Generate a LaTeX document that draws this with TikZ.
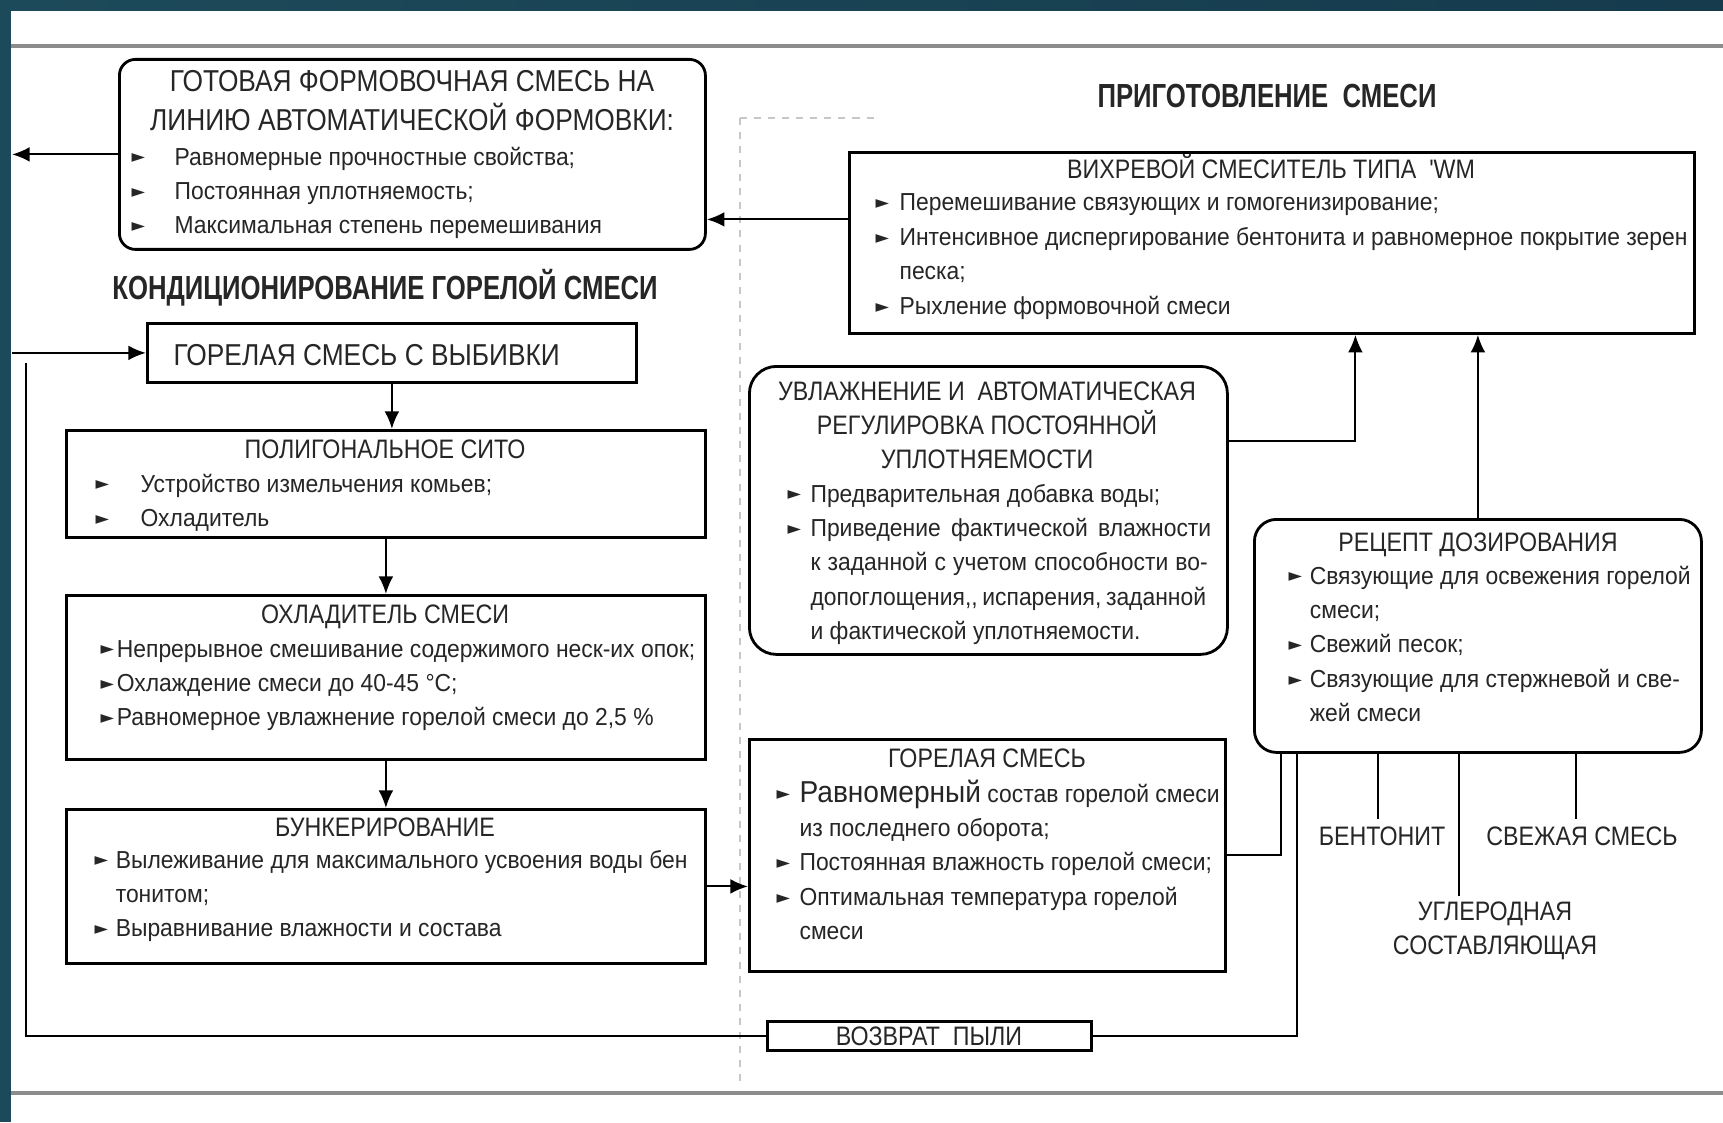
\documentclass[tikz,border=0pt]{standalone}
\usepackage{fontspec}
\usetikzlibrary{arrows.meta}
\setmainfont{Liberation Sans}
\newfontfamily\bodyfnt{Liberation Sans}[FakeStretch=0.93]
\newfontfamily\capsfnt{Liberation Sans}[FakeStretch=0.87]
\newfontfamily\headfnt{Liberation Sans}[FakeStretch=0.77]
\newfontfamily\symfnt{DejaVu Sans}
\definecolor{bandA}{HTML}{1D4A5A}
\definecolor{bandB}{HTML}{2B6862}
\definecolor{bandC}{HTML}{153B4D}
\newcommand{\bul}[1]{\makebox[#1][l]{\raisebox{0.6pt}{\symfnt\fontsize{5}{5}\selectfont ►}}}

\begin{document}
\begin{tikzpicture}[x=0.1mm, y=-0.1mm, text=black!85,
	box/.style={draw, line width=0.8pt, anchor=north west, inner sep=0},
	rbox/.style={box, rounded corners=2.2mm},
	ttl/.style={anchor=base, inner sep=0, font=\capsfnt\fontsize{7.6}{9.8}\selectfont},
	lst/.style={anchor=base west, inner sep=0, font=\bodyfnt\fontsize{7}{9.8}\selectfont},
	hd/.style={anchor=base, inner sep=0, font=\headfnt\bfseries\fontsize{9.5}{11}\selectfont},
	ln/.style={line width=0.6pt},
	arr/.style={line width=0.6pt, arrows={-Latex[length=5pt, width=4.2pt]}}]
	\useasboundingbox (0,0) rectangle (1723,1122);
	\fill[white] (0,0) rectangle (1723,1122);
	\shade[left color=bandA, middle color=bandB, right color=bandC] (0,0) rectangle (1723,11);
	\fill[bandA] (0,0) rectangle (11,1122);
	\draw[black!45, line width=1pt] (11,46) -- (1723,46);
	\draw[black!45, line width=1pt] (11,1093) -- (1723,1093);
	\draw[black!22, line width=0.8pt, dash pattern=on 2pt off 2pt] (740,118) -- (740,1085);
	\draw[black!22, line width=0.8pt, dash pattern=on 2pt off 2pt] (740,118) -- (880,118);

	% headings
	\node[hd] (hcond) at (385,299) {КОНДИЦИОНИРОВАНИЕ ГОРЕЛОЙ СМЕСИ};
	\node[hd] (hprep) at (1267,108) {ПРИГОТОВЛЕНИЕ\ \ СМЕСИ};

	% left column
	\node[rbox, rounded corners=1.6mm, minimum width=58.6mm, minimum height=19mm] (gotovaya) at (118,58) {};
	\node[ttl, font=\capsfnt\fontsize{8.6}{10.5}\selectfont] (gotovaya-t) at (412,92) {\begin{tabular}[t]{@{}c@{}}ГОТОВАЯ ФОРМОВОЧНАЯ СМЕСЬ НА\\ЛИНИЮ АВТОМАТИЧЕСКОЙ ФОРМОВКИ:\end{tabular}};
	\node[lst] (gotovaya-l) at (131,165) {\begin{tabular}[t]{@{}l@{}l@{}}
		\bul{12.2pt} & Равномерные прочностные свойства;\\
		\bul{12.2pt} & Постоянная уплотняемость;\\
		\bul{12.2pt} & Максимальная степень перемешивания
	\end{tabular}};

	\node[box, minimum width=48.9mm, minimum height=5.9mm] (vybivka) at (146,322) {};
	\node[ttl, anchor=base west, font=\capsfnt\fontsize{8.6}{10.5}\selectfont] (vybivka-t) at (173,365) {ГОРЕЛАЯ СМЕСЬ С ВЫБИВКИ};

	\node[box, minimum width=63.9mm, minimum height=10.7mm] (sito) at (65,429) {};
	\node[ttl] (sito-t) at (385,458) {ПОЛИГОНАЛЬНОЕ СИТО};
	\node[lst] (sito-l) at (95,492) {\begin{tabular}[t]{@{}l@{}l@{}}
		\bul{12.8pt} & Устройство измельчения комьев;\\
		\bul{12.8pt} & Охладитель
	\end{tabular}};

	\node[box, minimum width=63.9mm, minimum height=16.4mm] (ohlad) at (65,594) {};
	\node[ttl] (ohlad-t) at (385,623) {ОХЛАДИТЕЛЬ СМЕСИ};
	\node[lst] (ohlad-l) at (100,657) {\begin{tabular}[t]{@{}l@{}l@{}}
		\bul{4.6pt} & Непрерывное смешивание содержимого неск-их опок;\\
		\bul{4.6pt} & Охлаждение смеси до 40-45 °С;\\
		\bul{4.6pt} & Равномерное увлажнение горелой смеси до 2,5 \%
	\end{tabular}};

	\node[box, minimum width=63.9mm, minimum height=15.4mm] (bunker) at (65,808) {};
	\node[ttl] (bunker-t) at (385,836) {БУНКЕРИРОВАНИЕ};
	\node[lst] (bunker-l) at (94,868) {\begin{tabular}[t]{@{}l@{}l@{}}
		\bul{6pt} & Вылеживание для максимального усвоения воды бен\\
		 & тонитом;\\
		\bul{6pt} & Выравнивание влажности и состава
	\end{tabular}};

	% middle column
	\node[rbox, rounded corners=2.7mm, minimum width=47.8mm, minimum height=28.8mm] (uvlazh) at (748,365) {};
	\node[ttl] (uvlazh-t) at (987,400) {\begin{tabular}[t]{@{}c@{}}УВЛАЖНЕНИЕ И\ \ АВТОМАТИЧЕСКАЯ\\РЕГУЛИРОВКА ПОСТОЯННОЙ\\УПЛОТНЯЕМОСТИ\end{tabular}};
	\node[lst] (uvlazh-l) at (787,502) {\begin{tabular}[t]{@{}l@{}l@{}}
		\bul{6.5pt} & Предварительная добавка воды;\\
		\bul{6.5pt} & \makebox[114pt][s]{Приведение фактической влажности}\\
		 & \makebox[113pt][s]{к заданной с учетом способности во-}\\
		 & \makebox[112pt][s]{допоглощения,, испарения, заданной}\\
		 & и фактической уплотняемости.
	\end{tabular}};

	\node[box, minimum width=47.6mm, minimum height=23.2mm] (gorel) at (748,738) {};
	\node[ttl] (gorel-t) at (987,767) {ГОРЕЛАЯ СМЕСЬ};
	\node[lst] (gorel-l) at (776,802) {\begin{tabular}[t]{@{}l@{}l@{}}
		\bul{6.5pt} & {\fontsize{8.6}{9.8}\selectfont Равномерный} состав горелой смеси\\
		 & из последнего оборота;\\
		\bul{6.5pt} & Постоянная влажность горелой смеси;\\
		\bul{6.5pt} & Оптимальная температура горелой\\
		 & смеси
	\end{tabular}};

	\node[box, minimum width=32.4mm, minimum height=2.9mm] (pyl) at (766,1020) {};
	\node[ttl] (pyl-t) at (929,1045) {ВОЗВРАТ\ \ ПЫЛИ};

	% right column
	\node[box, minimum width=84.5mm, minimum height=18.1mm] (mix) at (848,151) {};
	\node[ttl] (mix-t) at (1271,178) {ВИХРЕВОЙ СМЕСИТЕЛЬ ТИПА\ \ 'WM};
	\node[lst] (mix-l) at (875,211) {\begin{tabular}[t]{@{}l@{}l@{}}
		\bul{6.8pt} & Перемешивание связующих и гомогенизирование;\\
		\bul{6.8pt} & Интенсивное диспергирование бентонита и равномерное покрытие зерен\\
		 & песка;\\
		\bul{6.8pt} & Рыхление формовочной смеси
	\end{tabular}};

	\node[rbox, minimum width=44.7mm, minimum height=23.3mm] (recipe) at (1253,518) {};
	\node[ttl] (recipe-t) at (1478,551) {РЕЦЕПТ ДОЗИРОВАНИЯ};
	\node[lst] (recipe-l) at (1288,584) {\begin{tabular}[t]{@{}l@{}l@{}}
		\bul{6pt} & Связующие для освежения горелой\\
		 & смеси;\\
		\bul{6pt} & Свежий песок;\\
		\bul{6pt} & Связующие для стержневой и све-\\
		 & жей смеси
	\end{tabular}};

	\node[ttl, anchor=center] (bent) at (1382,836) {БЕНТОНИТ};
	\node[ttl, anchor=center] (svezh) at (1582,836) {СВЕЖАЯ СМЕСЬ};
	\node[ttl] (ugl) at (1495,920) {\begin{tabular}[t]{@{}c@{}}УГЛЕРОДНАЯ\\СОСТАВЛЯЮЩАЯ\end{tabular}};

	% connectors
	\coordinate (lft) at (12,0);
	\coordinate (ret) at (26,363);
	\coordinate (c-bent) at (1378,819);
	\coordinate (c-ugl) at (1459,896);
	\coordinate (c-svezh) at (1576,819);
	\coordinate (c-pyl) at (1297,0);
	\draw[arr] (gotovaya.west) -- (gotovaya.west -| lft);
	\draw[arr] (vybivka.west -| lft) -- (vybivka.west);
	\draw[arr] (vybivka.south) -- (vybivka.south |- sito.north);
	\draw[arr] (sito.south) -- (ohlad.north);
	\draw[arr] (ohlad.south) -- (bunker.north);
	\draw[arr] (bunker.east) -- (bunker.east -| gorel.west);
	\draw[arr] ([yshift=2.35mm]mix.west) -- ([yshift=2.35mm]mix.west -| gotovaya.east);
	\draw[arr] ([yshift=6.9mm]uvlazh.east) -| ([xshift=8.35mm]mix.south);
	\draw[arr] (recipe.north) -- (recipe.north |- mix.south);
	\draw[ln] (gorel.east) -| ([xshift=-19.65mm]recipe.south);
	\draw[ln] (recipe.south -| c-pyl) -- (pyl.east -| c-pyl) -- (pyl.east);
	\draw[ln] (pyl.west) -- (pyl.west -| ret) -- (ret);
	\draw[ln] (c-bent) -- (c-bent |- recipe.south);
	\draw[ln] (c-ugl) -- (c-ugl |- recipe.south);
	\draw[ln] (c-svezh) -- (c-svezh |- recipe.south);
\end{tikzpicture}
\end{document}
